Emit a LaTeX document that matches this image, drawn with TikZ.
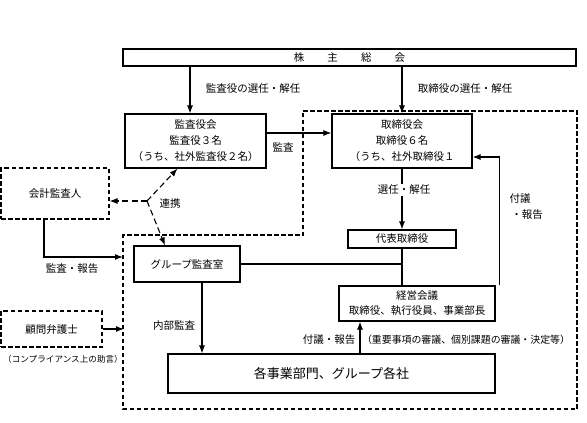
\documentclass[tikz,border=0pt]{standalone}
\usepackage{fontspec}
\setmainfont{Noto Sans CJK JP}
\usetikzlibrary{calc,positioning,arrows.meta}
\tikzstyle{every path}+=[line width=1.1pt]
\tikzstyle{box}=[draw,rectangle,inner sep=0pt,align=center,font=\fontsize{10.5}{16}\selectfont]
\tikzstyle{dbox}=[box,dash pattern=on 4.5pt off 2.5pt]
\tikzstyle{lbl}=[inner sep=1pt,align=center,font=\fontsize{10.5}{14}\selectfont]
\tikzstyle{small}=[inner sep=1pt,font=\fontsize{8.5}{10}\selectfont]
\tikzstyle{arr}=[-{Latex[length=8pt,width=6pt]}]
\tikzstyle{link}=[arr,dash pattern=on 6pt off 3.5pt]
\begin{document}
\begin{tikzpicture}[x=1pt,y=-1pt]
\useasboundingbox (0,0) rectangle (587,423);

% board area
\draw[dash pattern=on 4.5pt off 2.5pt] (303,111) -- (577,111) -- (577,409) -- (123,409) -- (123,235) -- (303,235) -- cycle;

% boxes
\node[box,minimum width=453pt,minimum height=17pt] (kab) at (349.5,57.5) {株\hspace{2.2em}主\hspace{2.2em}総\hspace{2.2em}会};
\node[box,minimum width=141pt,minimum height=54pt] (kan) at (195.5,141) {監査役会\\監査役３名\\（うち、社外監査役２名）};
\node[box,minimum width=140pt,minimum height=54pt] (tor) at (402,141) {取締役会\\取締役６名\\（うち、社外取締役１};
\node[box,minimum width=108pt,minimum height=18pt] (dai) at (402,239) {代表取締役};
\node[box,minimum width=156pt,minimum height=35pt,font=\fontsize{10.5}{15}\selectfont] (kei) at (417,303.5) {経営会議\\取締役、執行役員、事業部長};
\node[box,minimum width=106pt,minimum height=36pt] (grp) at (187,264) {グループ監査室};
\node[box,minimum width=327pt,minimum height=39pt,font=\fontsize{13}{15}\selectfont] (jig) at (331.5,373.5) {各事業部門、グループ各社};
\node[dbox,minimum width=108pt,minimum height=51pt] (kai) at (55,193.5) {会計監査人};
\node[dbox,minimum width=101pt,minimum height=36pt] (kom) at (51.5,329) {顧問弁護士};

% helper points
\coordinate (k1) at (190,0);
\coordinate (j1) at (360,0);
\coordinate (a1) at (44,0);
\coordinate (rw1) at (123,257);
\coordinate (rw2) at (124,329);
\coordinate (rk) at (147,201);
\coordinate (g1) at ($(grp.south)+(15,0)$);
\coordinate (e1) at ($(kei.north east)+(4,0)$);
\coordinate (e2) at ($(tor.east)+(0,16)$);

% election
\draw[arr] (kab.south -| k1) -- (kan.north -| k1);
\draw[arr] (tor.north |- kab.south) -- (tor.north);
\node[lbl] (l1) at (253,89) {監査役の選任・解任};
\node[lbl] (l2) at (465,89) {取締役の選任・解任};

% audit of board
\draw[arr] ($(kan.east)+(0,-8)$) -- ($(tor.west)+(0,-8)$);
\node[lbl] (l3) at (283,147) {監査};

% board -> representative -> management
\draw[arr] (tor.south) -- (dai.north);
\node[lbl,fill=white] (l4) at (404,190) {選任・解任};
\draw (dai.south) -- (dai.south |- kei.north);
\draw (grp.east) -- (grp.east -| dai.south);
\draw[arr] (e1) |- (e2);
\node[lbl] (l5) at (520,199) {付議};
\node[lbl] (l6) at (527,215) {・報告};

% internal audit
\draw[arr] (g1) -- (g1 |- jig.north);
\node[lbl] (l7) at (174,326) {内部監査};
\draw[arr] (jig.north -| j1) -- (kei.south -| j1);
\node[lbl] (l8) at (329,340) {付議・報告};
\node[small,font=\fontsize{9.9}{11}\selectfont] (l9) at (466,340) {（重要事項の審議、個別課題の審議・決定等）};

% accounting auditor
\draw[arr] (kai.south -| a1) |- (rw1);
\node[lbl] (l10) at (72,269) {監査・報告};
\draw[link] (rk) -- (kai.east |- rk);
\draw[link] (rk) -- ($(kan.south)+(-18,0)$);
\draw[link] (rk) -- ($(grp.north)+(-22,0)$);
\node[lbl] (l11) at (170,204) {連携};

% lawyer
\draw[arr] (kom.east) -- (rw2);
\node[small,font=\fontsize{8.6}{10}\selectfont] (l12) at (63,359) {（コンプライアンス上の助言）};

\end{tikzpicture}
\end{document}
